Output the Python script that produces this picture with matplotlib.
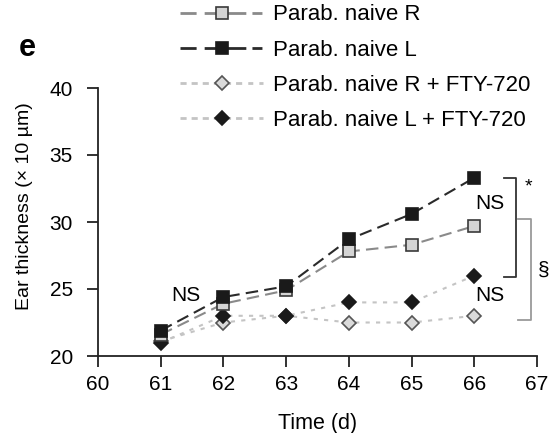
import matplotlib
matplotlib.use('Agg')
import matplotlib.pyplot as plt
from matplotlib.lines import Line2D

plt.rcParams['font.family'] = ['Liberation Sans', 'DejaVu Sans']

# data
days = [61, 62, 63, 64, 65, 66]
naive_R = [21.6, 23.9, 24.9, 27.8, 28.3, 29.7]
naive_L = [21.9, 24.4, 25.2, 28.7, 30.6, 33.3]
naive_R_fty = [21.1, 22.5, 23.0, 22.5, 22.5, 23.0]
naive_L_fty = [21.0, 23.0, 23.0, 24.0, 24.0, 26.0]
labels = ['Parab. naive R', 'Parab. naive L',
          'Parab. naive R + FTY-720', 'Parab. naive L + FTY-720']

W, H = 549, 433
fig = plt.figure(figsize=(W / 100, H / 100), dpi=100)
ax = fig.add_axes([98 / W, (H - 356) / H, (537 - 98) / W, (356 - 88) / H])

sq_R = dict(marker='s', ms=9, mfc='#d4d4d4', mec='#3a3a3a', mew=1.2)
sq_L = dict(marker='s', ms=9, mfc='#1a1a1a', mec='#1a1a1a', mew=1.2)
di_R = dict(marker='D', ms=7, mfc='#dadada', mec='#555555', mew=1.2)
di_L = dict(marker='D', ms=7, mfc='#1a1a1a', mec='#1a1a1a', mew=1.2)

ax.plot(days, naive_R, ls=(0, (6, 3)), color='#8a8a8a', lw=1.5, clip_on=False, zorder=4, **sq_R)
ax.plot(days, naive_L, ls=(0, (6, 3)), color='#2a2a2a', lw=1.5, clip_on=False, zorder=5, **sq_L)
ax.plot(days, naive_R_fty, ls=(0, (2, 3)), color='#c4c4c4', lw=1.5, clip_on=False, zorder=2, **di_R)
ax.plot(days, naive_L_fty, ls=(0, (2, 3)), color='#c4c4c4', lw=1.5, clip_on=False, zorder=3, **di_L)

ax.set_xlim(60, 67)
ax.set_ylim(20, 40)
ax.set_xticks(range(60, 68))
ax.set_yticks([20, 25, 30, 35, 40])
ax.spines['top'].set_visible(False)
ax.spines['right'].set_visible(False)
for s in ('left', 'bottom'):
    ax.spines[s].set_linewidth(1.3)
    ax.spines[s].set_color('#222222')
ax.tick_params(direction='out', length=8, width=1.3, labelsize=15, color='#222222')
ax.tick_params(axis='x', pad=6)
ax.tick_params(axis='y', pad=10)
ax.set_xlabel('Time (d)', fontsize=15.5, va='top')
ax.xaxis.set_label_coords(0.501, -0.213)
ax.set_ylabel('Ear thickness (× 10 µm)', fontsize=14)
ax.yaxis.set_label_coords(-0.148, 0.56)

# significance brackets
ax.plot([66.47, 66.67, 66.67, 66.47], [33.3, 33.3, 25.9, 25.9], color='#333333', lw=1.3, clip_on=False)
ax.plot([66.7, 66.9, 66.9, 66.7], [30.2, 30.2, 22.7, 22.7], color='#9a9a9a', lw=1.3, clip_on=False)
ax.text(66.86, 32.6, '*', fontsize=14, ha='center', va='center')
ax.text(67.01, 26.4, '§', fontsize=15, ha='left', va='center', clip_on=False)
ax.text(66.25, 31.4, 'NS', fontsize=15, ha='center', va='center')
ax.text(66.25, 24.5, 'NS', fontsize=15, ha='center', va='center')
ax.text(61.4, 24.55, 'NS', fontsize=15, ha='center', va='center')

fig.text(27 / W, 1 - 48 / H, 'e', fontsize=22, fontweight='bold', ha='center', va='center')

# legend handles: dash, solid piece through the marker, dash
dash_long = (0, (5.8, 2.9, 15, 2.2, 3.6))
dash_dot = (0, (2.2, 1.8, 2.2, 1.8, 2.2, 1.8, 2.2, 1.8, 2.2, 1.8, 2.2))
handles = [
    Line2D([], [], ls=dash_long, color='#8a8a8a', lw=2, **sq_R),
    Line2D([], [], ls=dash_long, color='#2a2a2a', lw=2, **sq_L),
    Line2D([], [], ls=dash_dot, color='#c4c4c4', lw=2, **di_R),
    Line2D([], [], ls=dash_dot, color='#c4c4c4', lw=2, **di_L),
]
fig.legend(handles, labels, loc='upper left', bbox_to_anchor=(176 / W, 1.0),
           frameon=False, fontsize=16, handlelength=3.7, handletextpad=0.45,
           labelspacing=0.64, borderaxespad=0, borderpad=0.2)

fig.savefig('out.png', dpi=100)
